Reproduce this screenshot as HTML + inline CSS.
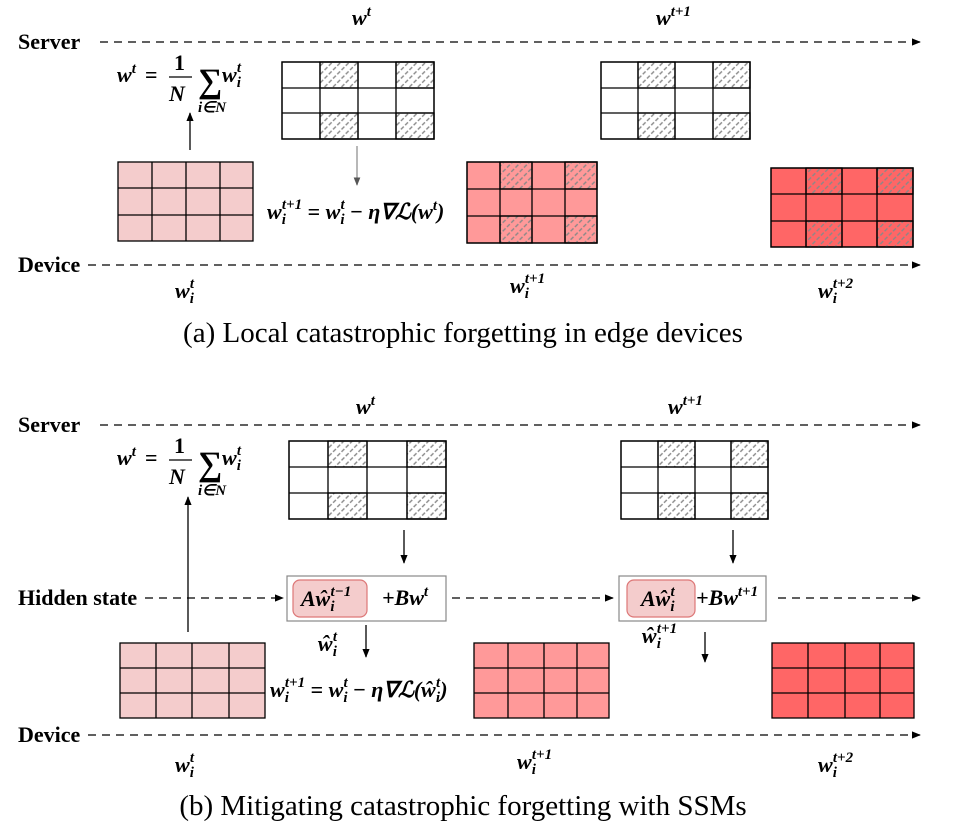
<!DOCTYPE html>
<html><head><meta charset="utf-8"><style>
html,body{margin:0;padding:0;background:#fff}
svg{display:block}
.lbl{font-family:"Liberation Serif",serif;font-weight:bold;font-size:22px;fill:#000}
.m{font-family:"Liberation Serif",serif;font-weight:bold;font-style:italic;font-size:22px;fill:#000}
.mr{font-family:"Liberation Serif",serif;font-weight:bold;font-style:normal;font-size:22px;fill:#000}
.s{font-size:15px}
.cap{font-family:"Liberation Serif",serif;font-size:29px;fill:#000}
</style></head><body>
<svg width="954" height="836" viewBox="0 0 954 836" xmlns="http://www.w3.org/2000/svg">
<defs>
<pattern id="h" width="6" height="6" patternUnits="userSpaceOnUse" patternTransform="rotate(-45)">
<line x1="0" y1="3" x2="4" y2="3" stroke="#888" stroke-width="1.4"/>
</pattern>
<marker id="a" viewBox="0 0 10 10" refX="9" refY="5" markerWidth="7" markerHeight="7" orient="auto"><path d="M0,1 L10,5 L0,9 z" fill="#000"/></marker>
<marker id="ag" viewBox="0 0 10 10" refX="9" refY="5" markerWidth="7" markerHeight="7" orient="auto"><path d="M0,1 L10,5 L0,9 z" fill="#555"/></marker>
</defs>

<g stroke="#000" stroke-width="1.3" stroke-dasharray="8,6" fill="none">
<line x1="100" y1="42" x2="920" y2="42" marker-end="url(#a)"/>
<line x1="88" y1="265" x2="920" y2="265" marker-end="url(#a)"/>
<line x1="100" y1="425" x2="920" y2="425" marker-end="url(#a)"/>
<line x1="145" y1="598" x2="283" y2="598" marker-end="url(#a)"/>
<line x1="452" y1="598" x2="613" y2="598" marker-end="url(#a)"/>
<line x1="778" y1="598" x2="920" y2="598" marker-end="url(#a)"/>
<line x1="88" y1="735" x2="920" y2="735" marker-end="url(#a)"/>
</g>

<text class="lbl" x="18" y="49">Server</text>
<text class="lbl" x="18" y="272">Device</text>
<text class="lbl" x="18" y="432">Server</text>
<text class="lbl" x="18" y="605">Hidden state</text>
<text class="lbl" x="18" y="742">Device</text>

<!-- top panel -->
<text class="m" x="352" y="25">w<tspan class="s" dy="-9">t</tspan></text>
<text class="m" x="656" y="25">w<tspan class="s" dy="-9">t+1</tspan></text>

<g id="f1">
<text class="m" x="117" y="82">w<tspan class="s" dy="-9">t</tspan></text>
<text class="mr" x="145" y="82">=</text>
<text class="mr" x="174" y="70">1</text>
<line x1="169" y1="77" x2="192" y2="77" stroke="#000" stroke-width="1.3"/>
<text class="m" x="169" y="101">N</text>
<text class="mr" x="198" y="92" style="font-size:34px">∑</text>
<text class="m s" x="198" y="112">i∈N</text>
<text class="m" x="222" y="82">w<tspan class="s" dy="5">i</tspan><tspan class="s" dx="-4" dy="-15">t</tspan></text>
</g>

<g stroke="#000" stroke-width="1.3">
<line x1="190" y1="150" x2="190" y2="113" marker-end="url(#a)"/>
</g>
<line x1="357" y1="146" x2="357" y2="185" stroke="#888" stroke-width="1.2" marker-end="url(#ag)"/>

<g stroke="#000" stroke-width="1.3">
<rect x="282" y="62" width="152" height="77" fill="#fff"/>
<rect x="320" y="62" width="38" height="26" fill="url(#h)"/><rect x="396" y="62" width="38" height="26" fill="url(#h)"/>
<rect x="320" y="113" width="38" height="26" fill="url(#h)"/><rect x="396" y="113" width="38" height="26" fill="url(#h)"/>
<path d="M320 62V139M358 62V139M396 62V139M282 88H434M282 113H434" fill="none"/>
<rect x="282" y="62" width="152" height="77" fill="none"/>
<rect x="601" y="62" width="149" height="77" fill="#fff"/>
<rect x="638" y="62" width="37" height="26" fill="url(#h)"/><rect x="713" y="62" width="37" height="26" fill="url(#h)"/>
<rect x="638" y="113" width="37" height="26" fill="url(#h)"/><rect x="713" y="113" width="37" height="26" fill="url(#h)"/>
<path d="M638 62V139M675 62V139M713 62V139M601 88H750M601 113H750" fill="none"/>
<rect x="601" y="62" width="149" height="77" fill="none"/>
<rect x="118" y="162" width="135" height="79" fill="#f4cccc"/>
<path d="M152 162V241M186 162V241M220 162V241M118 188H253M118 215H253" fill="none"/>
<rect x="467" y="162" width="130" height="81" fill="#ff9999"/>
<rect x="500" y="162" width="32" height="27" fill="url(#h)"/><rect x="565" y="162" width="32" height="27" fill="url(#h)"/>
<rect x="500" y="216" width="32" height="27" fill="url(#h)"/><rect x="565" y="216" width="32" height="27" fill="url(#h)"/>
<path d="M500 162V243M532 162V243M565 162V243M467 189H597M467 216H597" fill="none"/>
<rect x="467" y="162" width="130" height="81" fill="none"/>
<rect x="771" y="168" width="142" height="79" fill="#ff6666"/>
<rect x="806" y="168" width="36" height="26" fill="url(#h)"/><rect x="877" y="168" width="36" height="26" fill="url(#h)"/>
<rect x="806" y="221" width="36" height="26" fill="url(#h)"/><rect x="877" y="221" width="36" height="26" fill="url(#h)"/>
<path d="M806 168V247M842 168V247M877 168V247M771 194H913M771 221H913" fill="none"/>
<rect x="771" y="168" width="142" height="79" fill="none"/>
</g>

<text class="m" x="267" y="219">w<tspan class="s" dy="5">i</tspan><tspan class="s" dx="-4" dy="-15">t+1</tspan><tspan dy="10" class="mr"> = </tspan>w<tspan class="s" dy="5">i</tspan><tspan class="s" dx="-4" dy="-15">t</tspan><tspan dy="10" class="mr"> − </tspan>η∇ℒ(w<tspan class="s" dy="-9">t</tspan><tspan dy="9">)</tspan></text>

<text class="m" x="175" y="298">w<tspan class="s" dy="5">i</tspan><tspan class="s" dx="-4" dy="-15">t</tspan></text>
<text class="m" x="510" y="293">w<tspan class="s" dy="5">i</tspan><tspan class="s" dx="-4" dy="-15">t+1</tspan></text>
<text class="m" x="818" y="298">w<tspan class="s" dy="5">i</tspan><tspan class="s" dx="-4" dy="-15">t+2</tspan></text>

<text class="cap" x="463" y="342" text-anchor="middle">(a) Local catastrophic forgetting in edge devices</text>

<text class="m" x="356" y="414">w<tspan class="s" dy="-9">t</tspan></text>
<text class="m" x="668" y="414">w<tspan class="s" dy="-9">t+1</tspan></text>

<use href="#f1" x="0" y="383"/>

<g stroke="#000" stroke-width="1.3">
<line x1="188" y1="632" x2="188" y2="497" marker-end="url(#a)"/>
<line x1="404" y1="530" x2="404" y2="563" marker-end="url(#a)"/>
<line x1="733" y1="530" x2="733" y2="563" marker-end="url(#a)"/>
<line x1="366" y1="625" x2="366" y2="657" marker-end="url(#a)"/>
<line x1="705" y1="632" x2="705" y2="662" marker-end="url(#a)"/>

<rect x="289" y="441" width="157" height="78" fill="#fff"/>
<rect x="328" y="441" width="39" height="26" fill="url(#h)"/><rect x="407" y="441" width="39" height="26" fill="url(#h)"/>
<rect x="328" y="493" width="39" height="26" fill="url(#h)"/><rect x="407" y="493" width="39" height="26" fill="url(#h)"/>
<path d="M328 441V519M367 441V519M407 441V519M289 467H446M289 493H446" fill="none"/>
<rect x="289" y="441" width="157" height="78" fill="none"/>

<rect x="621" y="441" width="147" height="78" fill="#fff"/>
<rect x="658" y="441" width="37" height="26" fill="url(#h)"/><rect x="731" y="441" width="37" height="26" fill="url(#h)"/>
<rect x="658" y="493" width="37" height="26" fill="url(#h)"/><rect x="731" y="493" width="37" height="26" fill="url(#h)"/>
<path d="M658 441V519M695 441V519M731 441V519M621 467H768M621 493H768" fill="none"/>
<rect x="621" y="441" width="147" height="78" fill="none"/>

<rect x="120" y="643" width="145" height="75" fill="#f4cccc"/>
<path d="M156 643V718M192 643V718M229 643V718M120 668H265M120 693H265" fill="none"/>
<rect x="474" y="643" width="135" height="75" fill="#ff9999"/>
<path d="M508 643V718M544 643V718M577 643V718M474 668H609M474 693H609" fill="none"/>
<rect x="772" y="643" width="142" height="75" fill="#ff6666"/>
<path d="M808 643V718M845 643V718M880 643V718M772 668H914M772 693H914" fill="none"/>
</g>

<g stroke="#888" stroke-width="1.2" fill="#fff">
<rect x="287" y="576" width="159" height="45"/>
<rect x="619" y="576" width="147" height="45"/>
</g>
<g stroke="#d77" stroke-width="1.2" fill="#f4cccc">
<rect x="293" y="580" width="74" height="37" rx="7"/>
<rect x="627" y="580" width="68" height="37" rx="7"/>
</g>
<text class="m" x="301" y="606">Aŵ<tspan class="s" dy="5">i</tspan><tspan class="s" dx="-4" dy="-15">t−1</tspan></text>
<text class="m" x="382" y="605">+Bw<tspan class="s" dy="-9">t</tspan></text>
<text class="m" x="641" y="606">Aŵ<tspan class="s" dy="5">i</tspan><tspan class="s" dx="-4" dy="-15">t</tspan></text>
<text class="m" x="696" y="605">+Bw<tspan class="s" dy="-9">t+1</tspan></text>

<text class="m" x="318" y="651">ŵ<tspan class="s" dy="5">i</tspan><tspan class="s" dx="-4" dy="-15">t</tspan></text>
<text class="m" x="642" y="643">ŵ<tspan class="s" dy="5">i</tspan><tspan class="s" dx="-4" dy="-15">t+1</tspan></text>

<text class="m" x="270" y="697">w<tspan class="s" dy="5">i</tspan><tspan class="s" dx="-4" dy="-15">t+1</tspan><tspan dy="10" class="mr"> = </tspan>w<tspan class="s" dy="5">i</tspan><tspan class="s" dx="-4" dy="-15">t</tspan><tspan dy="10" class="mr"> − </tspan>η∇ℒ(ŵ<tspan class="s" dy="5">i</tspan><tspan class="s" dx="-4" dy="-15">t</tspan><tspan dy="10">)</tspan></text>

<text class="m" x="175" y="772">w<tspan class="s" dy="5">i</tspan><tspan class="s" dx="-4" dy="-15">t</tspan></text>
<text class="m" x="517" y="769">w<tspan class="s" dy="5">i</tspan><tspan class="s" dx="-4" dy="-15">t+1</tspan></text>
<text class="m" x="818" y="772">w<tspan class="s" dy="5">i</tspan><tspan class="s" dx="-4" dy="-15">t+2</tspan></text>

<text class="cap" x="463" y="815" text-anchor="middle">(b) Mitigating catastrophic forgetting with SSMs</text>
</svg>
</body></html>
